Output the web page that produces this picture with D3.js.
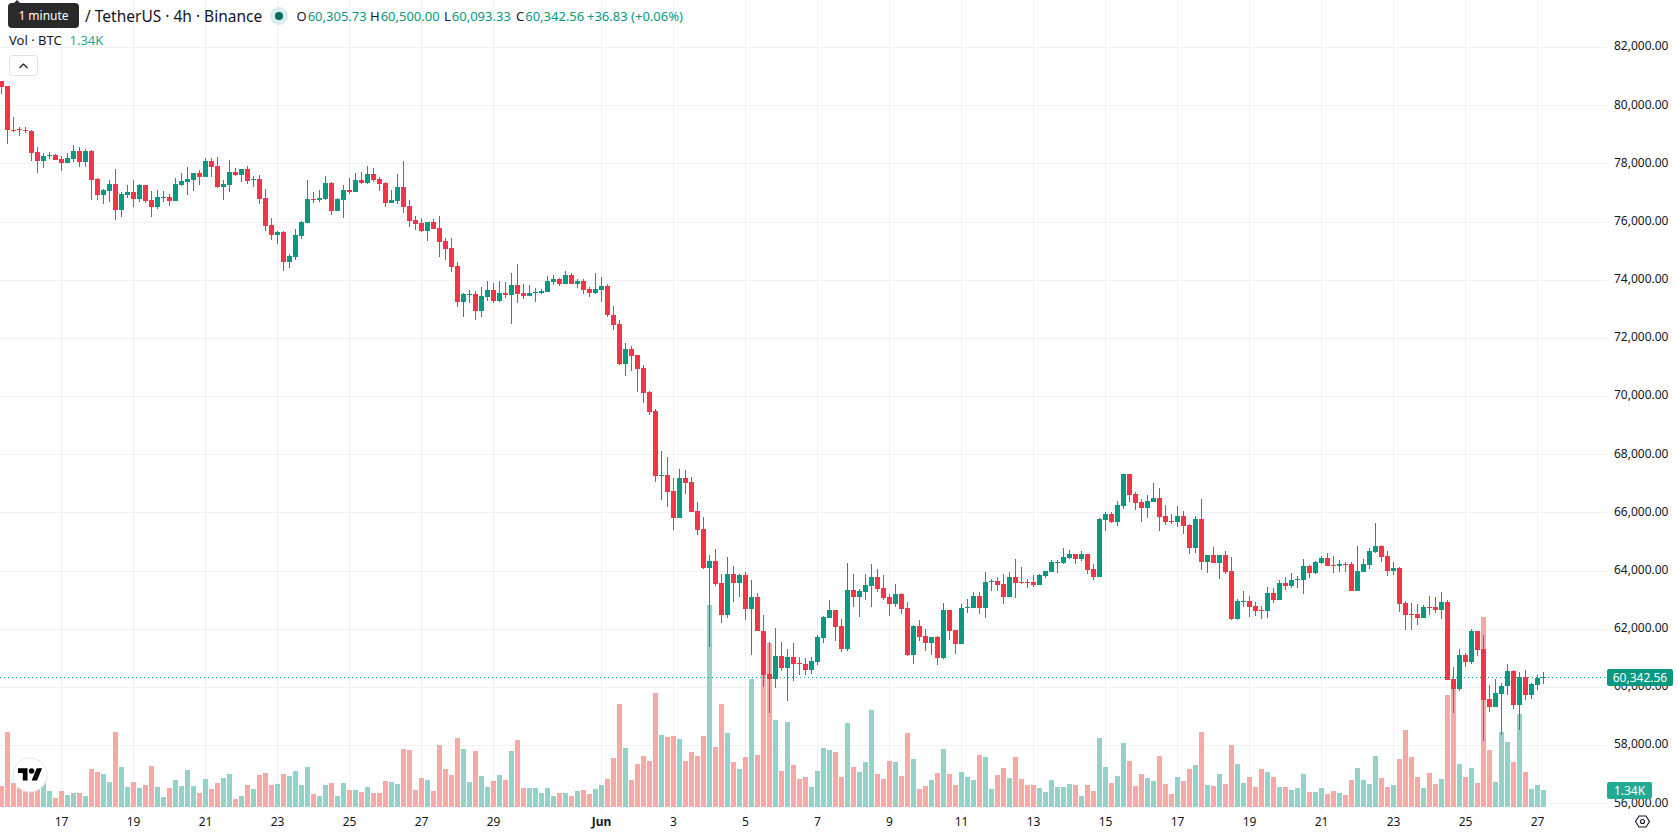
<!DOCTYPE html>
<html>
<head>
<meta charset="utf-8">
<title>BTC / USDT 4h</title>
<script src="https://cdn.jsdelivr.net/npm/d3@7"></script>
<style>
  html, body { margin: 0; padding: 0; background: #fff; overflow: hidden; }
  svg { display: block; }
  text { font-family: "Noto Sans", sans-serif; }
</style>
</head>
<body>
<svg id="chart" width="1678" height="835"></svg>
<script>
// 4-hour candles, oldest first
const opens = [
  80840,80666,79150,79180,79160,79115,78390,78080,78250,78290,
  78150,78010,78150,78425,78050,78425,77460,76910,77050,77290,
  76392,76910,77013,76771,77254,76737,76495,76806,76840,76702,
  77254,77357,77426,77668,77530,78080,77910,77185,77254,77702,
  77599,77805,77426,77460,76806,75875,75530,75634,74600,74772,
  75495,75944,76771,76737,76771,77322,76357,76736,77081,77012,
  77425,77322,77632,77460,77322,76633,76702,77184,76529,76047,
  75943,75667,75978,75771,75323,75081,74461,73220,73461,73496,
  72910,73392,73634,73254,73530,73461,73806,73530,73427,73530,
  73530,73565,73910,74013,73840,74151,73840,73944,73668,73530,
  73634,73772,72806,72496,71092,71609,71402,70954,70127,69472,
  67266,67300,66749,65819,67197,67059,66060,65439,64095,64336,
  63578,62475,63888,63578,63854,62682,63095,61923,60432,60259,
  61052,60638,61018,60811,60776,60569,60845,61672,62362,62638,
  62086,61293,63327,63086,63258,63465,63775,63396,63086,62845,
  63190,62707,61086,62086,61741,61500,61707,60983,62638,61948,
  61466,62707,62707,63120,62707,63603,63638,63534,63086,63776,
  63603,63603,63603,63500,63810,63948,64259,64259,64431,64569,
  64396,64569,64052,63776,65741,65948,65672,66224,67327,66638,
  66362,66155,66362,66500,65879,65707,65672,65879,65569,64776,
  65776,64293,64534,64259,64534,63983,62328,62914,62948,62776,
  62638,62603,63224,62983,63569,63465,63672,63672,64155,63914,
  64259,64431,64190,64155,64224,64224,63293,63948,64190,64638,
  64845,64500,63983,64086,62879,62500,62500,62362,62741,62741,
  62638,62914,60259,59914,61086,60845,61914,61293,59571,59295,
  59743,60019,60536,59364,60329,59708,60053,60305.73
];
const highs = [
  80840,80666,79598,79240,79240,79150,78560,78360,78390,78320,
  78250,78360,78630,78560,78495,78460,77495,77115,77426,77805,
  77013,77254,77426,77288,77254,77047,77080,77047,76944,77495,
  77668,77874,77668,77771,78185,78185,78219,77426,78116,77840,
  77805,77909,77564,77599,77116,76116,75668,75668,74875,75737,
  76013,77426,77013,77080,77564,77357,76805,77253,77494,77667,
  77701,77908,77839,77529,77357,77081,77632,78080,76736,76185,
  76116,75978,76081,76185,75426,75426,74599,73530,73634,73599,
  73737,73944,73875,73944,73910,74220,74530,73840,73806,73703,
  73668,74116,74151,74047,74289,74220,74013,74013,73737,74220,
  74082,73840,73082,72600,71816,71713,71402,71058,70162,69541,
  68128,67921,67197,67507,67473,67232,66370,65853,64543,64750,
  63888,64474,64164,63888,63957,63681,63233,62465,61535,62017,
  61535,61293,61500,61018,60983,61018,61776,62431,62983,62638,
  62327,64258,63879,63362,63879,64224,64051,63844,63190,63534,
  63224,62913,62121,62293,61983,61707,61741,62879,62638,61948,
  62845,63017,63258,63258,63948,63707,63775,63879,63948,64396,
  64121,63707,63845,63879,63983,64362,64362,64776,64707,64569,
  64672,64569,64224,65810,66017,66017,66396,67327,67327,66707,
  66465,66603,67017,66845,66259,65948,66224,66052,65603,65879,
  66465,64534,64810,64534,64672,64465,63017,63293,63121,62914,
  62776,63431,63397,63672,63776,63914,63810,64396,64190,64327,
  64500,64603,64500,64362,64293,64293,64845,64396,64776,65638,
  64879,64672,64293,64121,62948,62879,62845,62810,63121,63086,
  63259,62983,60672,61293,61155,61983,61914,61776,60053,60260,
  60122,60777,60570,60501,60570,60122,60398,60500
];
const lows = [
  80390,78667,79092,78940,79060,78080,77670,77840,78150,78115,
  77740,78010,78050,77875,77875,76737,76737,76600,76668,76047,
  76150,76806,76495,76668,76633,76150,76427,76668,76530,76702,
  77220,76910,77047,77254,77530,77530,77150,76737,77013,77564,
  77357,77288,77185,76600,75668,75358,75220,74300,74400,74668,
  75392,75944,76633,76668,76737,76219,76357,76116,76943,77012,
  77288,77288,77357,77046,76495,76633,76598,76288,75805,75702,
  75633,75323,75736,74771,74668,74254,73048,72737,73186,72600,
  72737,73254,73186,73220,73358,72496,73186,73323,73427,73220,
  73496,73565,73806,73772,73840,73840,73703,73496,73392,73496,
  73220,72703,72289,71058,70679,70851,70127,69748,69334,67059,
  66439,66198,65405,65819,66646,66025,65232,64060,61372,63474,
  62199,62371,62923,63095,62302,61096,61923,59984,59121,59949,
  60535,59501,60190,60397,60397,60432,60742,61500,62362,61569,
  61190,61224,62741,62396,62983,62741,63258,62983,62431,62741,
  62500,61052,60776,61569,61224,61086,60742,60948,61603,61121,
  61466,62534,62707,62500,62362,63293,63293,62845,63086,63052,
  63534,63397,63431,63500,63741,63948,63914,64224,64396,64224,
  64328,63879,63672,63776,65362,65638,65534,66121,66362,66086,
  65672,65810,66362,65362,65569,65603,65500,65258,64569,64603,
  64017,63914,64259,63707,63879,62293,62293,62741,62397,62431,
  62328,62362,62879,62983,63328,63397,63397,63190,63741,63879,
  64224,64155,63914,63948,63948,63293,63293,63948,64052,64603,
  64293,63810,63845,62569,61948,61948,62121,62362,62466,62534,
  62328,60224,59121,59845,60672,60776,61052,58148,59122,59295,
  58354,59708,59226,58526,59536,59570,59880,60093.33
];
const closes = [
  80640,79150,79140,79140,79130,78357,78080,78250,78290,78115,
  78010,78185,78425,78050,78425,77426,76910,77080,77290,76392,
  76944,77013,76771,77254,76702,76495,76840,76840,76702,77288,
  77392,77460,77668,77530,78080,77874,77185,77288,77702,77599,
  77805,77392,77460,76771,75840,75530,75634,74600,74806,75530,
  75978,76771,76737,76806,77323,76357,76771,77081,77012,77425,
  77322,77632,77425,77288,76633,76736,77184,76495,76012,75909,
  75667,75978,75736,75288,75047,74426,73220,73496,73496,72910,
  73427,73634,73254,73530,73461,73806,73496,73427,73530,73565,
  73600,73944,74013,73840,74151,73840,73944,73634,73530,73668,
  73772,72772,72461,71092,71609,71368,70920,70093,69438,67266,
  67300,66715,65819,67197,67025,66025,65405,64095,64336,63543,
  62475,63888,63578,63854,62682,63095,61923,60397,60259,61052,
  60638,61018,60776,60776,60569,60880,61707,62396,62638,62051,
  61293,63327,63086,63293,63500,63775,63362,63051,62845,63190,
  62672,61086,62086,61707,61500,61707,60983,62638,61914,61466,
  62707,62741,63120,62707,63603,63638,63500,63086,63775,63569,
  63569,63569,63500,63845,63983,64293,64293,64465,64569,64396,
  64569,64017,63776,65776,65948,65672,66259,67327,66603,66327,
  66155,66396,66500,65845,65672,65672,65879,65534,64776,65776,
  64293,64534,64259,64534,63948,62328,62948,62948,62741,62603,
  62603,63224,62983,63569,63465,63672,63707,64155,63914,64293,
  64431,64155,64155,64224,64190,63293,63983,64224,64672,64845,
  64465,63983,64086,62845,62466,62466,62362,62741,62707,62638,
  62914,60224,59914,61086,60845,61914,61259,59536,59295,59777,
  60019,60536,59364,60329,59708,60088,60294,60342.56
];
// Volume per candle, in thousands of BTC
const volumes = [
  1.66,5.92,1.89,1.5,1.6,1.5,3.71,2.2,1.26,0.71,
  1.26,0.95,1.1,1.1,0.87,3.0,2.76,2.6,1.97,5.92,
  3.16,1.58,1.97,1.5,1.74,3.24,1.58,0.79,1.5,2.13,
  1.66,2.92,1.66,1.1,2.21,1.42,1.89,2.29,2.6,0.63,
  0.87,1.74,1.42,2.53,2.68,1.74,1.82,2.6,2.45,2.84,
  1.74,3.16,1.03,0.87,1.74,1.89,0.87,1.89,1.34,1.34,
  1.18,1.58,1.1,1.1,2.05,1.97,1.82,4.58,4.5,1.34,
  2.29,2.13,1.26,4.89,3.0,2.53,5.45,4.58,1.97,4.42,
  2.45,1.58,2.05,2.53,2.13,4.42,5.29,1.5,1.5,1.5,
  1.1,1.5,0.87,1.1,1.1,0.87,1.26,1.34,1.03,1.42,
  1.74,2.21,3.87,8.13,4.66,2.13,3.39,4.03,3.63,9.0,
  5.68,5.53,5.6,5.37,3.63,4.34,4.03,5.6,15.95,4.74,
  8.13,5.84,3.55,3.0,3.95,10.1,4.1,10.4,12.95,6.87,
  2.84,6.71,3.32,2.21,2.37,1.58,2.84,4.66,4.5,4.34,
  2.37,6.63,3.16,2.76,3.55,7.66,2.6,2.21,3.63,3.55,
  2.45,5.84,3.79,1.42,1.66,2.13,2.68,4.58,2.6,1.74,
  2.76,2.37,2.13,4.1,3.95,1.42,2.53,3.08,2.29,3.95,
  2.21,1.74,1.74,1.5,1.18,2.13,1.58,1.58,1.82,1.74,
  0.87,1.74,1.26,5.45,3.16,1.89,2.45,5.05,3.63,1.66,
  2.6,2.29,2.05,4.03,1.82,1.03,2.37,2.05,3.0,3.32,
  5.92,1.74,1.66,2.6,1.82,4.89,3.39,1.89,2.37,1.58,
  3.0,2.76,2.37,1.58,1.58,1.34,1.5,2.6,1.18,1.18,
  1.5,1.03,1.26,1.1,0.95,2.13,3.08,2.13,1.82,4.03,
  2.29,1.58,1.74,3.79,6.08,3.95,2.37,1.5,2.68,1.82,
  2.21,8.84,9.3,3.39,2.37,3.08,1.89,14.97,4.5,1.97,
  5.92,5.13,3.55,7.34,2.76,1.42,1.74,1.34
];

const priceTicks = [56000,58000,60000,62000,64000,66000,68000,70000,72000,74000,76000,78000,80000,82000];
const timeTickIndex = [10,22,34,46,58,70,82,100,112,124,136,148,160,172,184,196,208,220,232,244,256];
const timeTickLabels = ["17","19","21","23","25","27","29","Jun","3","5","7","9","11","13","15","17","19","21","23","25","27"];

const legendValues = [["O","60,305.73"],["H","60,500.00"],["L","60,093.33"],["C","60,342.56"]];
const legendChange = "+36.83 (+0.06%)";
const symbolTitle = "/ TetherUS · 4h · Binance";
const lastVolumeLabel = "1.34K";

const BULL = "#089981", BEAR = "#f23645";
const BULL_VOL = "#92d2c9", BEAR_VOL = "#f7a9a8";
const GRID = "#f0f1f3";
const PANE_W = 1607, PANE_H = 811;

const candles = opens.map((o, i) => ({ i, o, h: highs[i], l: lows[i], c: closes[i], v: volumes[i], up: closes[i] >= o }));
const last = candles[candles.length - 1];

const svg = d3.select("#chart");
const x = d3.scaleLinear().domain([0, 257]).range([1.5, 1543.5]);
const y = d3.scaleLinear().domain([56000, 82000]).range([803.3, 47.1]);
const yVol = d3.scaleLinear().domain([0, 16]).range([807, 604]);
const crisp = v => Math.round(v);

svg.append("defs").append("clipPath").attr("id", "pane")
  .append("rect").attr("width", PANE_W).attr("height", PANE_H);

// Grid lines
const grid = svg.append("g");
grid.selectAll("line.h").data(priceTicks).join("line").attr("class", "h")
  .attr("x1", 0).attr("x2", PANE_W)
  .attr("y1", d => crisp(y(d)) + 0.5).attr("y2", d => crisp(y(d)) + 0.5)
  .attr("stroke", GRID).attr("stroke-width", 1);
grid.selectAll("line.v").data(timeTickIndex).join("line").attr("class", "v")
  .attr("y1", 0).attr("y2", PANE_H)
  .attr("x1", d => x(d)).attr("x2", d => x(d))
  .attr("stroke", GRID).attr("stroke-width", 1);

const plot = svg.append("g").attr("clip-path", "url(#pane)");

// Volume histogram sits behind the candles
plot.append("g").selectAll("rect").data(candles).join("rect")
  .attr("x", d => x(d.i) - 2.5).attr("width", 5)
  .attr("y", d => crisp(yVol(d.v))).attr("height", d => 807 - crisp(yVol(d.v)))
  .attr("fill", d => d.up ? BULL_VOL : BEAR_VOL);

// Last-price dotted line
plot.append("line")
  .attr("x1", 0).attr("x2", PANE_W)
  .attr("y1", crisp(y(last.c)) + 0.5).attr("y2", crisp(y(last.c)) + 0.5)
  .attr("stroke", BULL).attr("stroke-width", 1).attr("stroke-dasharray", "1 3");

// Candles
const candleG = plot.append("g");
candleG.selectAll("rect.wick").data(candles).join("rect").attr("class", "wick")
  .attr("x", d => x(d.i) - 0.5).attr("width", 1)
  .attr("y", d => crisp(y(d.h))).attr("height", d => Math.max(1, crisp(y(d.l)) - crisp(y(d.h))))
  .attr("fill", d => d.up ? BULL : BEAR);
candleG.selectAll("rect.body").data(candles).join("rect").attr("class", "body")
  .attr("x", d => x(d.i) - 2.5).attr("width", 5)
  .attr("y", d => crisp(y(Math.max(d.o, d.c))))
  .attr("height", d => Math.max(1, crisp(y(Math.min(d.o, d.c))) - crisp(y(Math.max(d.o, d.c)))))
  .attr("fill", d => d.up ? BULL : BEAR);

// Price axis
const priceAxis = d3.axisRight(y).tickValues(priceTicks).tickSize(0).tickPadding(0)
  .tickFormat(d3.format(",.2f"));
const pa = svg.append("g").attr("transform", "translate(1614,-1)").call(priceAxis);
pa.select(".domain").remove();
pa.selectAll("text").attr("font-size", 12).attr("fill", "#131722").attr("font-family", '"Noto Sans", sans-serif');

// Time axis
const timeAxis = d3.axisBottom(x).tickValues(timeTickIndex).tickSize(0).tickPadding(0)
  .tickFormat(d => timeTickLabels[timeTickIndex.indexOf(d)]);
const ta = svg.append("g").attr("transform", "translate(-0.5,817)").call(timeAxis);
ta.select(".domain").remove();
ta.selectAll("text").attr("font-size", 12).attr("fill", "#131722").attr("font-family", '"Noto Sans", sans-serif')
  .attr("font-weight", d => timeTickLabels[timeTickIndex.indexOf(d)] === "Jun" ? 700 : 400);

// Last price and last volume tags on the scale
svg.append("rect").attr("x", 1607).attr("y", crisp(y(last.c)) - 8).attr("width", 66).attr("height", 17).attr("rx", 2).attr("fill", BULL);
svg.append("text").attr("x", 1640).attr("y", crisp(y(last.c)) + 4.5).attr("text-anchor", "middle")
  .attr("font-size", 12).attr("fill", "#fff").text(d3.format(",.2f")(last.c));
svg.append("rect").attr("x", 1607).attr("y", crisp(yVol(last.v)) - 8).attr("width", 45).attr("height", 17).attr("rx", 2).attr("fill", "#22ab94");
svg.append("text").attr("x", 1629.5).attr("y", crisp(yVol(last.v)) + 4.5).attr("text-anchor", "middle")
  .attr("font-size", 12).attr("fill", "#fff").text(lastVolumeLabel);

// Legend rows
const legend = svg.append("g");
legend.append("text").attr("x", 85).attr("y", 21.5).attr("font-size", 15.5).attr("fill", "#131722").text(symbolTitle);
legend.append("circle").attr("cx", 279).attr("cy", 16).attr("r", 9).attr("fill", "#d9eeeb");
legend.append("circle").attr("cx", 279).attr("cy", 16).attr("r", 4).attr("fill", "#026b5b");
const legendX = [296.5, 370, 444, 516];
legendValues.forEach(([k, v], n) => {
  const t = legend.append("text").attr("x", legendX[n]).attr("y", 20.5).attr("font-size", 13);
  t.append("tspan").attr("fill", "#131722").text(k);
  t.append("tspan").attr("fill", BULL).attr("dx", 1).text(v);
});
legend.append("text").attr("x", 587).attr("y", 20.5).attr("font-size", 13).attr("fill", BULL).text(legendChange);
legend.append("text").attr("x", 9).attr("y", 45).attr("font-size", 13).attr("fill", "#131722").text("Vol · BTC");
legend.append("text").attr("x", 69.5).attr("y", 45).attr("font-size", 13).attr("fill", "#22ab94").text(lastVolumeLabel);

// Collapse button
legend.append("rect").attr("x", 9.5).attr("y", 55.5).attr("width", 28).attr("height", 20).attr("rx", 3)
  .attr("fill", "#fff").attr("stroke", "#dfe1e5");
legend.append("path").attr("d", "M19.5 68 L23.5 64 L27.5 68").attr("fill", "none").attr("stroke", "#131722").attr("stroke-width", 1.2);

// Tooltip
legend.append("path").attr("d", "M13 4 L17 0 L21 4 Z").attr("fill", "#2a2e39");
legend.append("rect").attr("x", 8).attr("y", 3).attr("width", 71).attr("height", 25).attr("rx", 4).attr("fill", "#2a2a2c");
legend.append("text").attr("x", 43.5).attr("y", 20).attr("text-anchor", "middle").attr("font-size", 12).attr("fill", "#fff").text("1 minute");

// Logo badge
const badge = svg.append("g").attr("transform", "translate(30,775)");
badge.append("circle").attr("r", 17).attr("fill", "#fff").attr("stroke", "#e6e7ea");
badge.append("g").attr("transform", "translate(-12,-9.5) scale(0.68)").attr("fill", "#000")
  .call(g => {
    g.append("path").attr("d", "M14 22H7V11H0V4h14v18zM28 22h-8l7.5-18h8L28 22z");
    g.append("circle").attr("cx", 20).attr("cy", 8).attr("r", 4);
  });

// Settings hexagon
const gear = svg.append("g").attr("transform", "translate(1642.5,821.5)")
  .attr("fill", "none").attr("stroke", "#131722").attr("stroke-width", 1.1);
gear.append("path").attr("d", "M-7 0 L-3.5 -5.5 L3.5 -5.5 L7 0 L3.5 5.5 L-3.5 5.5 Z");
gear.append("circle").attr("r", 2);
</script>
</body>
</html>
